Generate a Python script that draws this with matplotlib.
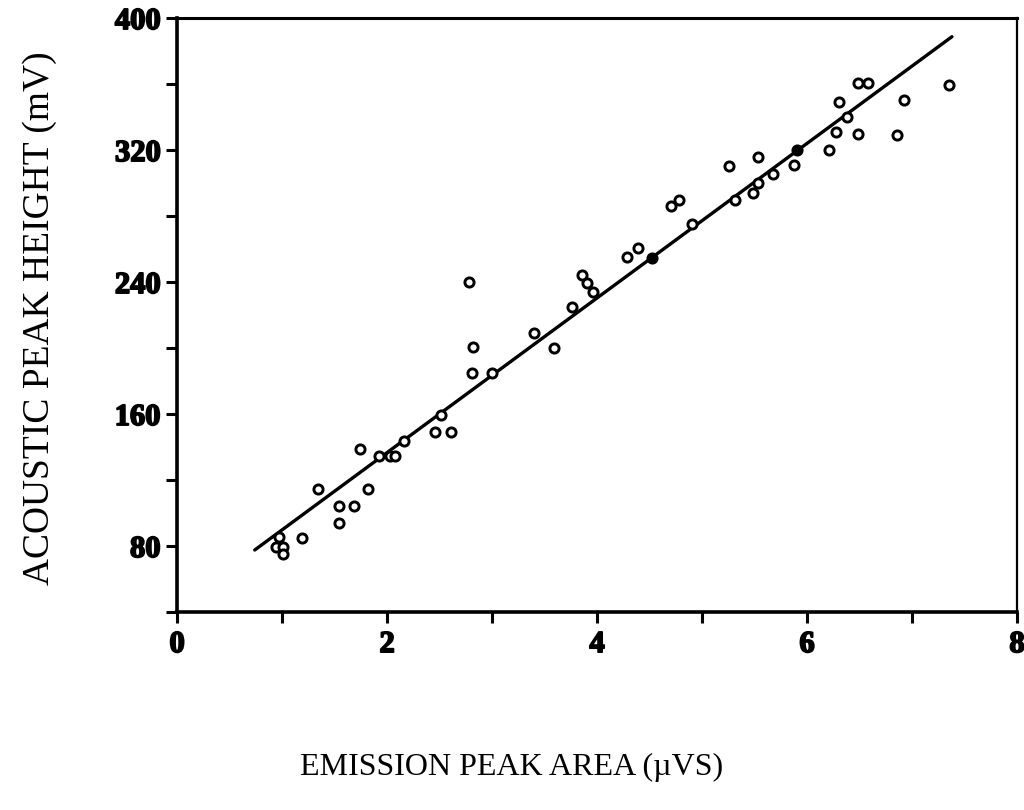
import matplotlib
matplotlib.use("Agg")
import matplotlib.pyplot as plt
import matplotlib.patheffects as pe
from matplotlib.ticker import MultipleLocator

# Open-circle measurements
area_open = [0.97, 0.94, 1.01, 1.01, 1.19, 1.34, 1.54, 1.54, 1.69, 1.74, 1.82,
             1.92, 2.03, 2.08, 2.16, 2.46, 2.61, 2.51, 2.78, 2.82, 2.81, 3.00,
             3.40, 3.59, 3.76, 3.86, 3.90, 3.96, 4.29, 4.39, 4.70, 4.78, 4.90,
             5.26, 5.31, 5.49, 5.53, 5.53, 5.68, 5.88, 6.21, 6.28, 6.30, 6.38,
             6.49, 6.49, 6.58, 6.86, 6.92, 7.35]
height_open = [85.3, 79.6, 79.6, 75.0, 84.7, 114.4, 104.4, 94.1, 104.4, 138.8, 114.4,
               134.5, 134.5, 134.5, 143.8, 149.3, 149.3, 159.4, 240.2, 200.4, 185.0, 184.6,
               209.1, 200.2, 224.7, 244.1, 239.2, 233.9, 255.0, 260.8, 286.1, 289.5, 275.0,
               310.3, 289.7, 294.1, 299.8, 315.9, 305.5, 310.7, 320.0, 330.7, 349.3, 340.2,
               329.7, 360.4, 360.4, 329.1, 350.3, 359.4]

# Points that appear solid (on the fitted line)
area_filled = [4.52, 5.90]
height_filled = [254.5, 320.0]

# Regression line end points
fit_x = [0.74, 7.38]
fit_y = [77.6, 388.7]

x_ticks = [0, 2, 4, 6, 8]
y_ticks = [80, 160, 240, 320, 400]

fig = plt.figure(figsize=(10.24, 8.10), dpi=100)
ax = fig.add_axes([0.1729, 0.2444, 0.8203, 0.7333])

ax.plot(fit_x, fit_y, color="black", lw=2.4, solid_capstyle="round", zorder=2)
ax.plot(area_open, height_open, linestyle="none", marker="o", ms=6.6,
        mfc="white", mec="black", mew=2.1, zorder=3)
ax.plot(area_filled, height_filled, linestyle="none", marker="o", ms=7.2,
        mfc="black", mec="black", mew=1.5, zorder=3)

ax.set_xlim(0, 8)
ax.set_ylim(40, 400)
ax.set_xticks(x_ticks)
ax.set_yticks(y_ticks)
ax.xaxis.set_minor_locator(MultipleLocator(1))
ax.yaxis.set_minor_locator(MultipleLocator(40))

tick_font = dict(family="Liberation Serif", weight="bold", size=22)
heavy = [pe.withStroke(linewidth=1.3, foreground="black")]
for lbl in ax.set_xticklabels([str(v) for v in x_ticks], fontdict=tick_font):
    lbl.set_path_effects(heavy)
for lbl in ax.set_yticklabels([str(v) for v in y_ticks], fontdict=tick_font):
    lbl.set_path_effects(heavy)

ax.tick_params(which="both", direction="out", width=2.2, length=8, color="black")
ax.tick_params(axis="x", which="major", pad=5)
ax.tick_params(axis="y", which="major", pad=4)
ax.tick_params(top=False, right=False)

for side, lw in [("left", 2.6), ("bottom", 2.6), ("top", 2.2), ("right", 1.6)]:
    ax.spines[side].set_linewidth(lw)
    ax.spines[side].set_color("black")

fig.text(0.039, 0.607, "ACOUSTIC PEAK HEIGHT (mV)", rotation=90,
         ha="center", va="center", family="Liberation Serif", size=27)
fig.text(0.50, 0.053, "EMISSION PEAK AREA (\u00b5VS)",
         ha="center", va="center", family="Liberation Serif", size=23)

fig.savefig("out.png", dpi=100, facecolor="white")
